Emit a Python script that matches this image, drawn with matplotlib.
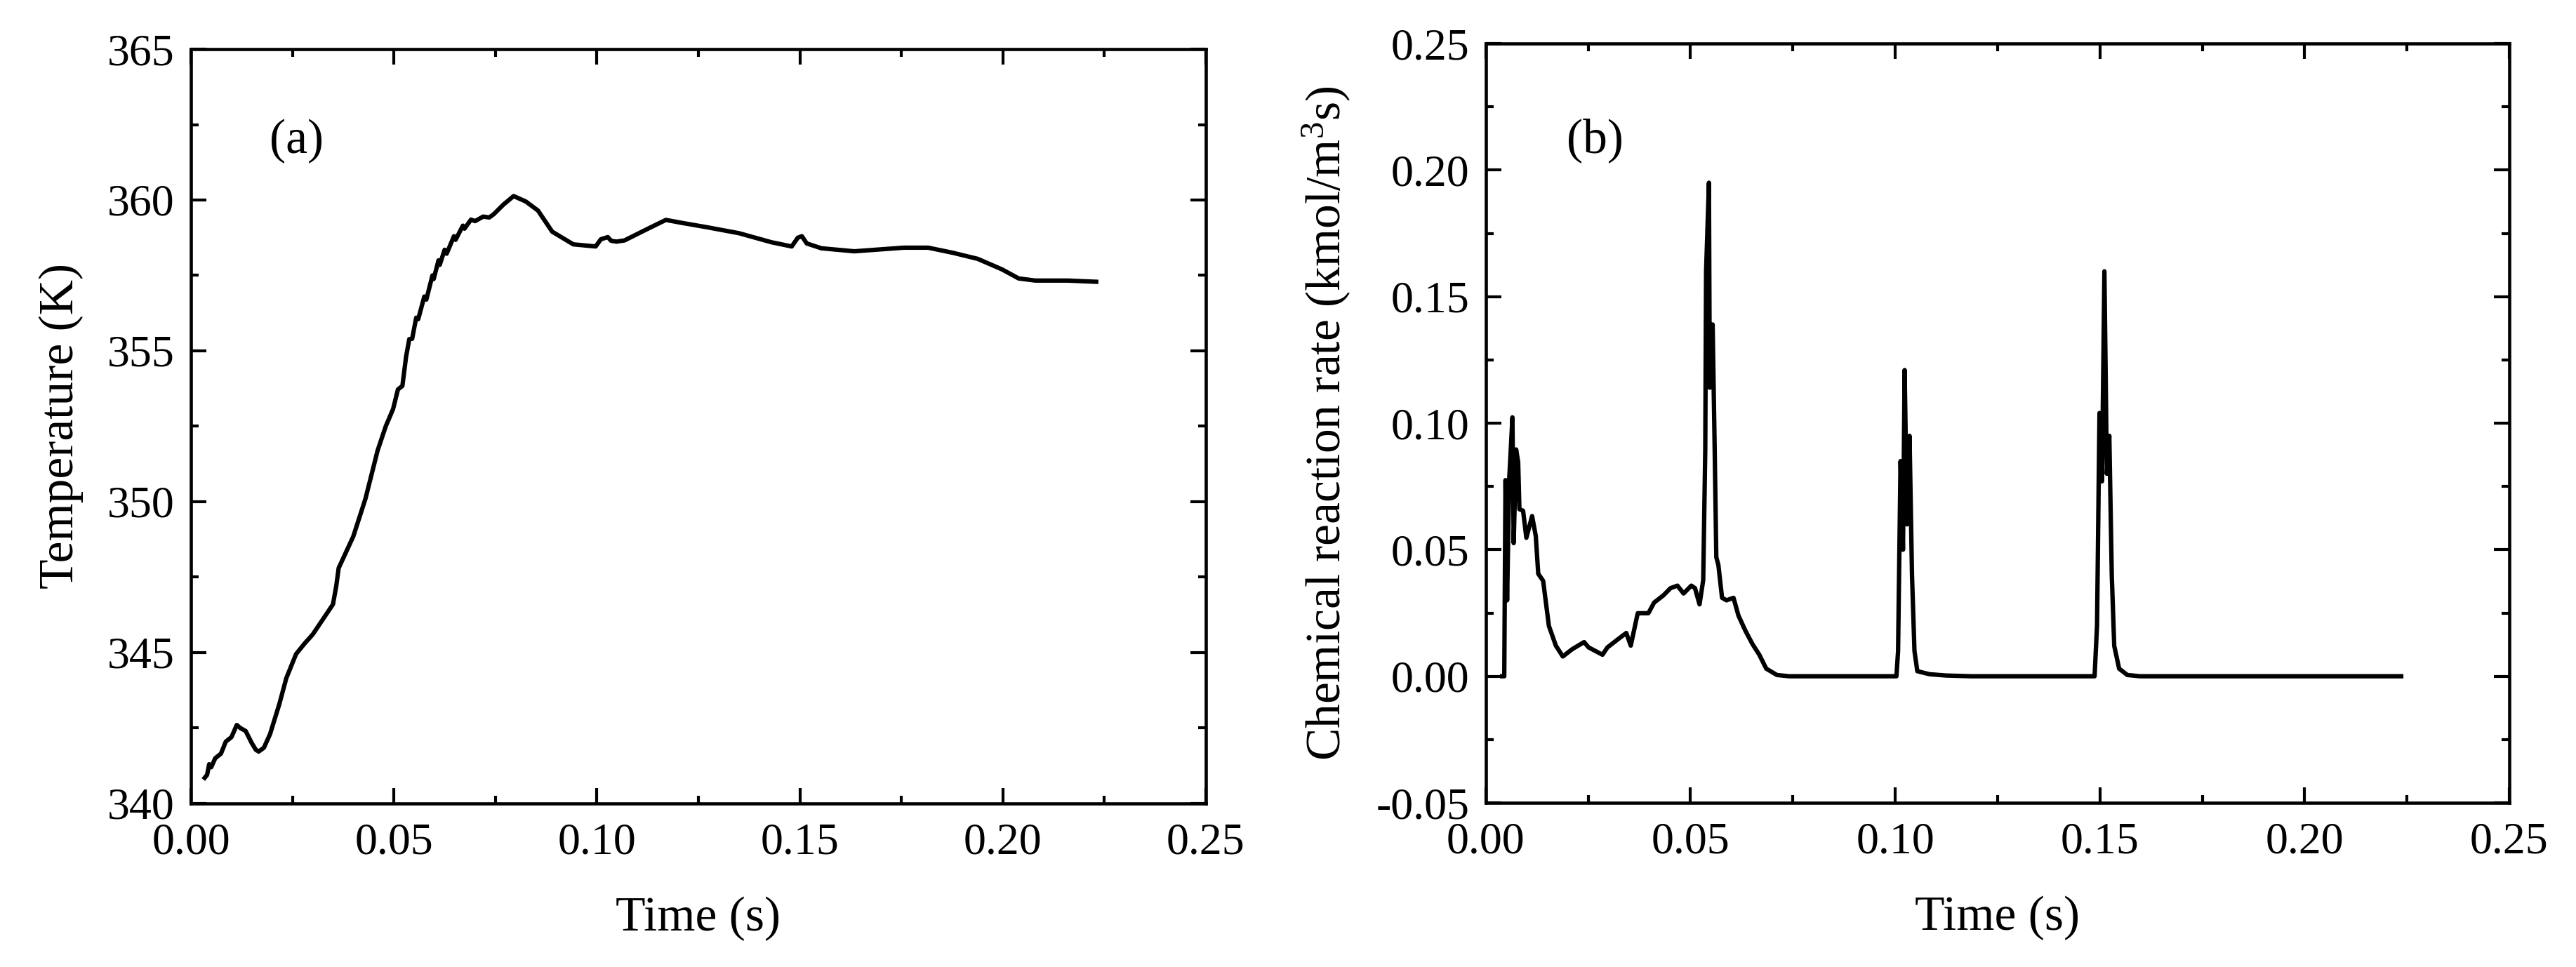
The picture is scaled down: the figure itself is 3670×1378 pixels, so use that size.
import matplotlib
matplotlib.use("Agg")
import matplotlib.pyplot as plt
from matplotlib.ticker import MultipleLocator, FormatStrFormatter

plt.rcParams['font.family'] = ['Liberation Serif', 'DejaVu Serif']
plt.rcParams['mathtext.fontset'] = 'custom'
plt.rcParams['mathtext.rm'] = 'Liberation Serif'
plt.rcParams['mathtext.it'] = 'Liberation Serif:italic'
plt.rcParams['mathtext.default'] = 'regular'

# ---- panel (a): temperature ----
time_a = [0.0034, 0.0040, 0.0045, 0.0050, 0.0060, 0.0074, 0.0086, 0.0100, 0.0113, 0.0122,
          0.0135, 0.0150, 0.0160, 0.0167, 0.0180, 0.0195, 0.0218, 0.0235, 0.0259, 0.0280,
          0.0300, 0.0330, 0.0350, 0.0358, 0.0364, 0.0400, 0.0430, 0.0460, 0.0480, 0.0498,
          0.0510, 0.0521, 0.0530, 0.0538, 0.0545, 0.0555, 0.0560, 0.0575, 0.0580, 0.0595,
          0.0598, 0.0610, 0.0613, 0.0625, 0.0630, 0.0648, 0.0652, 0.0670, 0.0674, 0.0690,
          0.0700, 0.0720, 0.0735, 0.0746, 0.0770, 0.0795, 0.0825, 0.0855, 0.0890, 0.0942,
          0.0997, 0.1010, 0.1027, 0.1035, 0.1048, 0.1068, 0.1129, 0.1170, 0.1210, 0.1270,
          0.1350, 0.1430, 0.1480, 0.1495, 0.1505, 0.1517, 0.1553, 0.1634, 0.1695, 0.1756,
          0.1816, 0.1877, 0.1938, 0.1998, 0.2039, 0.2080, 0.2160, 0.2230]
temp_a = [340.85, 340.95, 341.30, 341.20, 341.50, 341.65, 342.05, 342.20, 342.60, 342.50,
          342.40, 342.00, 341.78, 341.72, 341.85, 342.30, 343.30, 344.15, 344.95, 345.30,
          345.60, 346.20, 346.60, 347.20, 347.80, 348.85, 350.10, 351.70, 352.50, 353.07,
          353.72, 353.84, 354.80, 355.39, 355.40, 356.10, 356.05, 356.80, 356.70, 357.50,
          357.38, 358.00, 357.85, 358.35, 358.22, 358.80, 358.68, 359.15, 359.05, 359.35,
          359.30, 359.45, 359.42, 359.53, 359.85, 360.13, 359.95, 359.65, 358.95, 358.53,
          358.46, 358.70, 358.77, 358.65, 358.62, 358.66, 359.07, 359.34, 359.24, 359.10,
          358.90, 358.60, 358.46, 358.75, 358.80, 358.56, 358.40, 358.30, 358.36, 358.42,
          358.42, 358.25, 358.05, 357.70, 357.40, 357.33, 357.33, 357.29]

# ---- panel (b): chemical reaction rate ----
time_b = [0.0040, 0.0045, 0.0048, 0.0052, 0.0057, 0.0065, 0.0068, 0.0074, 0.0079, 0.0082,
          0.0091, 0.0099, 0.0113, 0.0122, 0.0128, 0.0140, 0.0154, 0.0171, 0.0188, 0.0211,
          0.0240, 0.0251, 0.0285, 0.0297, 0.0325, 0.0343, 0.0354, 0.0371, 0.0397, 0.0411,
          0.0434, 0.0451, 0.0468, 0.0483, 0.0502, 0.0511, 0.0522, 0.0531, 0.0536, 0.0538,
          0.0545, 0.0547, 0.0554, 0.0559, 0.0563, 0.0568, 0.0577, 0.0588, 0.0605, 0.0617,
          0.0634, 0.0651, 0.0668, 0.0685, 0.0711, 0.0741,
          0.1003, 0.1007, 0.1013, 0.1019, 0.1023, 0.1029, 0.1035, 0.1041, 0.1047, 0.1054,
          0.1084, 0.1124, 0.1185,
          0.1487, 0.1493, 0.1499, 0.1505, 0.1511, 0.1517, 0.1523, 0.1529, 0.1535, 0.1547,
          0.1567, 0.1598, 0.2236]
rate_b = [0.0, 0.0, 0.0775, 0.030, 0.0775, 0.1023, 0.0526, 0.0896, 0.0846, 0.0660,
          0.0654, 0.0547, 0.0633, 0.0554, 0.0405, 0.0377, 0.0199, 0.0121, 0.0078, 0.0107,
          0.0135, 0.0114, 0.0085, 0.0114, 0.0149, 0.0171, 0.0121, 0.0249, 0.0249, 0.0291,
          0.0320, 0.0348, 0.0358, 0.0327, 0.0358, 0.0348, 0.0284, 0.0380, 0.0896, 0.1600,
          0.1950, 0.1140, 0.1390, 0.0896, 0.0470, 0.0440, 0.0310, 0.0300, 0.0310, 0.0240,
          0.0180, 0.0128, 0.0085, 0.0030, 0.0005, 0.0,
          0.0, 0.010, 0.085, 0.050, 0.121, 0.060, 0.095, 0.040, 0.010, 0.002,
          0.0008, 0.0003, 0.0,
          0.0, 0.020, 0.104, 0.077, 0.160, 0.080, 0.095, 0.040, 0.012, 0.003,
          0.0005, 0.0, 0.0]

fig = plt.figure(figsize=(36.7, 13.78), dpi=100)
ax1 = fig.add_axes([0.0741, 0.1691, 0.3940, 0.7801])
ax2 = fig.add_axes([0.5768, 0.1698, 0.3973, 0.7852])

TICK_FS = 46
LABEL_FS = 50
LINE_W = 4.5

def style(ax, ymajor, yminor, yfmt):
    ax.set_xlim(0.0, 0.25)
    ax.xaxis.set_major_locator(MultipleLocator(0.05))
    ax.xaxis.set_minor_locator(MultipleLocator(0.025))
    ax.yaxis.set_major_locator(MultipleLocator(ymajor))
    ax.yaxis.set_minor_locator(MultipleLocator(yminor))
    ax.xaxis.set_major_formatter(FormatStrFormatter('%.2f'))
    ax.yaxis.set_major_formatter(FormatStrFormatter(yfmt))
    ax.tick_params(which='both', direction='in', top=True, right=True, width=3.0)
    ax.tick_params(which='major', length=16)
    ax.tick_params(which='minor', length=8)
    ax.tick_params(axis='x', which='major', pad=20, labelsize=TICK_FS)
    ax.tick_params(axis='y', which='major', pad=17, labelsize=TICK_FS)
    for s in ax.spines.values():
        s.set_linewidth(3.3)
    ax.set_xlabel('Time (s)', fontsize=LABEL_FS, labelpad=34)

ax1.plot(time_a, temp_a, color='black', linewidth=LINE_W)
ax1.set_ylim(340, 365)
style(ax1, 5, 2.5, '%d')
ax1.set_ylabel('Temperature (K)', fontsize=LABEL_FS, labelpad=24)
ax1.text(0.104, 0.878, '(a)', transform=ax1.transAxes, fontsize=LABEL_FS,
         ha='center', va='center')

ax2.plot(time_b, rate_b, color='black', linewidth=LINE_W)
ax2.set_ylim(-0.05, 0.25)
style(ax2, 0.05, 0.025, '%.2f')
ax2.set_ylabel('Chemical reaction rate (kmol/m$^{3}$s)', fontsize=LABEL_FS, labelpad=24)
ax2.text(0.107, 0.872, '(b)', transform=ax2.transAxes, fontsize=LABEL_FS,
         ha='center', va='center')

fig.savefig('out.png', dpi=100)
